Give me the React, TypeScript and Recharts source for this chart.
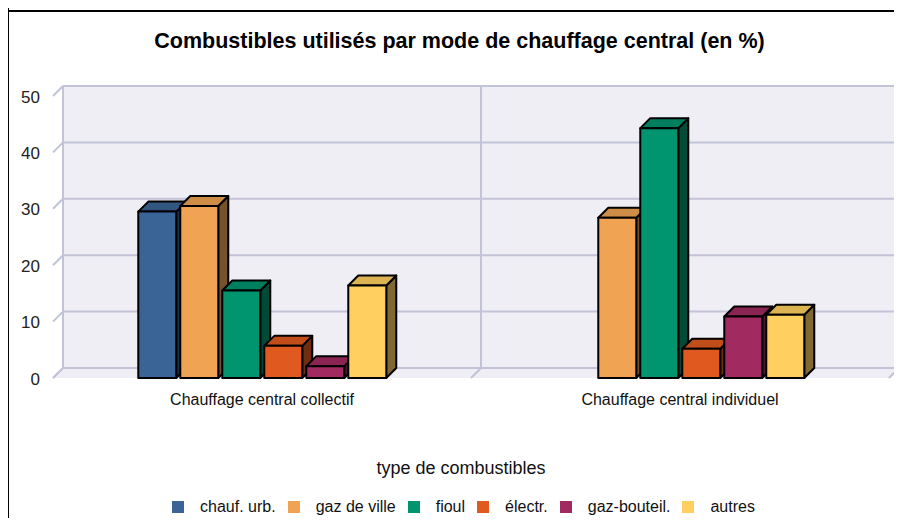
import React from "react";
import { BarChart, Bar, XAxis, YAxis, CartesianGrid } from "recharts";

// categories + one small array per fuel (values in %)
const categories = ["Chauffage central collectif", "Chauffage central individuel"];
const fuels = ["chauf. urb.", "gaz de ville", "fioul", "électr.", "gaz-bouteil.", "autres"];
const chaufUrb = [29.5, null];
const gazDeVille = [30.5, 28.4];
const fioul = [15.5, 44.3];
const electr = [5.7, 5.2];
const gazBouteil = [2.1, 10.9];
const autres = [16.4, 11.2];
const yTicks = [0, 10, 20, 30, 40, 50];

const series = [chaufUrb, gazDeVille, fioul, electr, gazBouteil, autres];
const colors = ["#3b6496", "#f0a453", "#00946f", "#e05a1f", "#a12b61", "#ffd05f"];

const data = categories.map((name, i) => {
  const row: Record<string, any> = { name };
  series.forEach((s, k) => (row["s" + k] = s[i]));
  return row;
});

const DEPTH = 10;
const WALL = "#efeef4";
const GRID = "#c2c2d8";
const FONT = "'Liberation Sans', Arial, sans-serif";

const shade = (hex: string, f: number) => {
  const n = parseInt(hex.slice(1), 16);
  const c = [(n >> 16) & 255, (n >> 8) & 255, n & 255].map((v) => Math.round(v * f));
  return `rgb(${c[0]},${c[1]},${c[2]})`;
};

// 3D box: recharts rect = back face, front face pushed left/down by DEPTH
const Bar3D = (props: any) => {
  const { x, y, width, height, fill } = props;
  if (width == null || height == null || !isFinite(y) || height <= 0) return null;
  const fx = x - DEPTH;
  const fy = y + DEPTH;
  const st = { stroke: "#000", strokeWidth: 2, strokeLinejoin: "round" as const };
  return (
    <g>
      <polygon
        points={`${fx + width},${fy} ${x + width},${y} ${x + width},${y + height} ${fx + width},${fy + height}`}
        fill={shade(fill, 0.5)}
        {...st}
      />
      <polygon
        points={`${fx},${fy} ${x},${y} ${x + width},${y} ${fx + width},${fy}`}
        fill={shade(fill, 0.86)}
        {...st}
      />
      <rect x={fx} y={fy} width={width} height={height} fill={fill} {...st} />
    </g>
  );
};

const GridH = (p: any) => {
  const { x1, y1, x2, y2, y, height } = p;
  const bottom = Math.abs(y1 - (y + height)) < 1;
  return (
    <g key={p.key}>
      {bottom && (
        <polygon
          points={`${x1},${y1} ${x2},${y2} ${x2 - DEPTH},${y2 + DEPTH} ${x1 - DEPTH},${y1 + DEPTH}`}
          fill={WALL}
        />
      )}
      <line x1={x1} y1={y1} x2={x2} y2={y2} stroke={GRID} strokeWidth={2} />
      <line x1={x1 - DEPTH} y1={y1 + DEPTH} x2={x1} y2={y1} stroke={GRID} strokeWidth={2} />
    </g>
  );
};

const GridV = (p: any) => {
  const { x1, y1, x2, y2 } = p;
  return (
    <g key={p.key}>
      <line x1={x1} y1={y1} x2={x2} y2={y2} stroke={GRID} strokeWidth={2} />
      <line x1={x2} y1={y2} x2={x2 - DEPTH} y2={y2 + DEPTH} stroke={GRID} strokeWidth={2} />
    </g>
  );
};

const YTick = (p: any) => (
  <text
    x={p.x - DEPTH - 13}
    y={p.y + DEPTH + 1}
    textAnchor="end"
    dominantBaseline="central"
    fontSize={17}
    fontFamily={FONT}
    fill="#222"
  >
    {p.payload.value}
  </text>
);

const XTick = (p: any) => (
  <text
    x={p.x - DEPTH}
    y={p.y + 31}
    textAnchor="middle"
    dominantBaseline="central"
    fontSize={16}
    fontFamily={FONT}
    fill="#111"
  >
    {p.payload.value}
  </text>
);

export default function App() {
  return (
    <div
      style={{
        position: "relative",
        width: 902,
        height: 526,
        margin: -8,
        background: "#fff",
        fontFamily: FONT,
        overflow: "hidden",
      }}
    >
      <div style={{ position: "absolute", left: 0, top: 10, width: 902, height: 1.5, background: "#000" }} />
      <div style={{ position: "absolute", left: 7.5, top: 0, width: 1.5, height: 526, background: "#000" }} />

      <div
        style={{
          position: "absolute",
          left: 0,
          top: 28,
          width: 919,
          textAlign: "center",
          fontSize: 21.5,
          lineHeight: "26px",
          fontWeight: "bold",
          color: "#000",
        }}
      >
        Combustibles utilisés par mode de chauffage central (en %)
      </div>

      <div style={{ position: "absolute", left: 0, top: 0 }}>
        <BarChart
          width={902}
          height={526}
          data={data}
          margin={{ top: 86, right: 3, left: 3, bottom: 128 }}
          barCategoryGap="20.4%"
          barGap={4}
        >
          <CartesianGrid
            fill={WALL}
            fillOpacity={1}
            horizontal={GridH}
            vertical={GridV}
            verticalCoordinatesGenerator={({ offset }: any) =>
              [...categories.map((_, i) => offset.left + (offset.width * i) / categories.length), offset.left + offset.width]
            }
          />
          <XAxis
            dataKey="name"
            height={30}
            axisLine={false}
            tickLine={false}
            tickSize={0}
            tickMargin={0}
            tick={XTick}
            interval={0}
          />
          <YAxis
            width={60}
            domain={[0, 50]}
            ticks={yTicks}
            axisLine={false}
            tickLine={false}
            tickSize={0}
            tickMargin={0}
            tick={YTick}
          />
          {series.map((_, k) => (
            <Bar
              key={k}
              dataKey={"s" + k}
              name={fuels[k]}
              fill={colors[k]}
              shape={Bar3D}
              isAnimationActive={false}
            />
          ))}
        </BarChart>
      </div>

      <div
        style={{
          position: "absolute",
          left: 0,
          top: 457,
          width: 922,
          textAlign: "center",
          fontSize: 18,
          lineHeight: "22px",
          color: "#111",
        }}
      >
        type de combustibles
      </div>

      <div
        style={{
          position: "absolute",
          left: 0,
          top: 497,
          width: 927,
          display: "flex",
          justifyContent: "center",
          alignItems: "center",
          fontSize: 16,
          lineHeight: "20px",
          color: "#111",
        }}
      >
        {fuels.map((f, k) => (
          <div key={f} style={{ display: "flex", alignItems: "center", marginRight: k < fuels.length - 1 ? 12 : 0 }}>
            <span style={{ width: 12, height: 12, background: colors[k], marginRight: 16, display: "inline-block" }} />
            <span>{f}</span>
          </div>
        ))}
      </div>
    </div>
  );
}
